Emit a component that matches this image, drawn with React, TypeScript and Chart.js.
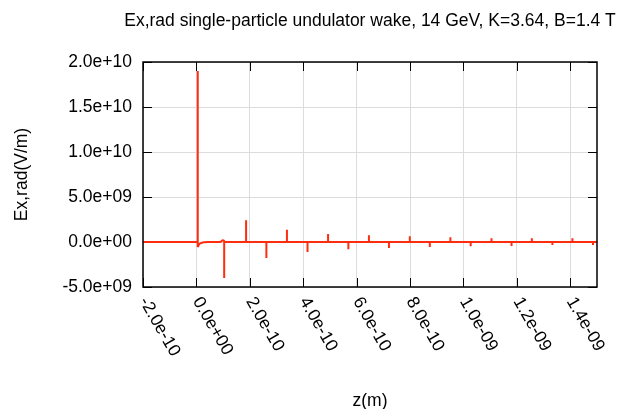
import React, { useEffect, useRef } from 'react';
import { Chart, registerables } from 'chart.js';

Chart.register(...registerables);

const TITLE = 'Ex,rad single-particle undulator wake, 14 GeV, K=3.64, B=1.4 T';
const X_LABEL = 'z(m)';
const Y_LABEL = 'Ex,rad(V/m)';

const X_MIN = -2.0e-10;
const X_MAX = 1.5e-9;
const Y_MIN = -5.0e9;
const Y_MAX = 2.0e10;

const xTickValues = [-2e-10, 0, 2e-10, 4e-10, 6e-10, 8e-10, 1e-9, 1.2e-9, 1.4e-9];
const xTickLabels = ['-2.0e-10', '0.0e+00', '2.0e-10', '4.0e-10', '6.0e-10', '8.0e-10', '1.0e-09', '1.2e-09', '1.4e-09'];
const yTickValues = [-5e9, 0, 5e9, 1e10, 1.5e10, 2e10];
const yTickLabels = ['-5.0e+09', '0.0e+00', '5.0e+09', '1.0e+10', '1.5e+10', '2.0e+10'];

// head of the wake: main spike near z=0, undershoot + recovery, small bump and first negative spike
const headZ = [-2.0e-10, 0.05e-10, 0.05e-10, 0.05e-10, 0.10e-10, 0.17e-10, 0.28e-10, 0.45e-10, 0.90e-10, 0.98e-10, 1.04e-10, 1.04e-10, 1.04e-10, 1.10e-10];
const headE = [0, 0, 1.9e10, -0.55e9, -0.25e9, -0.11e9, -0.03e9, 0, 0, 0.2e9, 0.15e9, -4.0e9, 0, 0];

// later alternating spikes of the wake
const spikeZ = [1.86e-10, 2.62e-10, 3.39e-10, 4.16e-10, 4.93e-10, 5.69e-10, 6.46e-10, 7.21e-10, 7.99e-10, 8.74e-10, 9.51e-10, 10.27e-10, 11.05e-10, 11.80e-10, 12.56e-10, 13.33e-10, 14.08e-10, 14.85e-10];
const spikeE = [2.43e9, -1.77e9, 1.37e9, -1.1e9, 0.88e9, -0.81e9, 0.74e9, -0.66e9, 0.63e9, -0.55e9, 0.52e9, -0.48e9, 0.41e9, -0.44e9, 0.41e9, -0.33e9, 0.41e9, -0.33e9];

const tailZ = [1.5e-9];
const tailE = [0];

const FONT = '17.5px "Liberation Sans", Arial, Helvetica, sans-serif';
const LINE_COLOR = 'rgb(255,45,15)';

function buildPoints() {
  const pts: { x: number; y: number }[] = [];
  headZ.forEach((z, i) => pts.push({ x: z, y: headE[i] }));
  spikeZ.forEach((z, i) => {
    pts.push({ x: z, y: 0 });
    pts.push({ x: z, y: spikeE[i] });
    pts.push({ x: z, y: 0 });
  });
  tailZ.forEach((z, i) => pts.push({ x: z, y: tailE[i] }));
  return pts;
}

const framePlugin = {
  id: 'gnuframe',
  beforeDatasetsDraw(chart: any) {
    const { ctx, chartArea: a, scales } = chart;
    const x = scales.x;
    const y = scales.y;
    ctx.save();
    // inward tick marks on all four sides (under the data, like gnuplot)
    ctx.strokeStyle = '#000';
    ctx.lineWidth = 1;
    ctx.beginPath();
    xTickValues.forEach((v) => {
      const px = Math.round(x.getPixelForValue(v)) + 0.5;
      ctx.moveTo(px, a.bottom);
      ctx.lineTo(px, a.bottom - 9);
      ctx.moveTo(px, a.top);
      ctx.lineTo(px, a.top + 9);
    });
    yTickValues.forEach((v) => {
      const py = Math.round(y.getPixelForValue(v)) + 0.5;
      ctx.moveTo(a.left, py);
      ctx.lineTo(a.left + 9, py);
      ctx.moveTo(a.right, py);
      ctx.lineTo(a.right - 9, py);
    });
    ctx.stroke();
    ctx.restore();
  },
  afterDatasetsDraw(chart: any) {
    const { ctx, chartArea: a, scales } = chart;
    const x = scales.x;
    const y = scales.y;
    ctx.save();
    // frame
    ctx.strokeStyle = '#000';
    ctx.lineWidth = 1.5;
    ctx.strokeRect(a.left, a.top, a.right - a.left, a.bottom - a.top);

    // texts
    ctx.fillStyle = '#000';
    ctx.font = FONT;
    // title
    ctx.textAlign = 'center';
    ctx.textBaseline = 'alphabetic';
    ctx.fillText(TITLE, (a.left + a.right) / 2, 26);
    // y tick labels
    ctx.textAlign = 'right';
    yTickValues.forEach((v, i) => {
      const py = y.getPixelForValue(v);
      ctx.fillText(yTickLabels[i], a.left - 11, py + 5);
    });
    // x tick labels rotated
    ctx.textAlign = 'left';
    xTickValues.forEach((v, i) => {
      const px = x.getPixelForValue(v);
      ctx.save();
      ctx.translate(px - 4, a.bottom + 14);
      ctx.rotate(Math.PI / 3);
      ctx.fillText(xTickLabels[i], 0, 0);
      ctx.restore();
    });
    // x axis label
    ctx.textAlign = 'center';
    ctx.fillText(X_LABEL, (a.left + a.right) / 2, 406);
    // y axis label
    ctx.save();
    ctx.translate(27, (a.top + a.bottom) / 2);
    ctx.rotate(-Math.PI / 2);
    ctx.fillText(Y_LABEL, 0, 0);
    ctx.restore();
    ctx.restore();
  },
};

export default function App() {
  const ref = useRef<HTMLCanvasElement | null>(null);
  useEffect(() => {
    document.body.style.margin = '0';
    const canvas = ref.current;
    if (!canvas) return;
    const chart = new Chart(canvas, {
      type: 'line',
      data: {
        datasets: [
          {
            data: buildPoints(),
            borderColor: LINE_COLOR,
            borderWidth: 2,
            pointRadius: 0,
            tension: 0,
            fill: false,
            borderJoinStyle: 'bevel',
          } as any,
        ],
      },
      options: {
        animation: false,
        responsive: false,
        devicePixelRatio: 1,
        layout: { padding: { left: 143, top: 62, right: 30, bottom: 122 } },
        plugins: { legend: { display: false }, tooltip: { enabled: false }, title: { display: false } },
        scales: {
          x: {
            type: 'linear',
            min: X_MIN,
            max: X_MAX,
            afterBuildTicks: (s: any) => {
              s.ticks = xTickValues.map((v) => ({ value: v }));
            },
            ticks: { display: false },
            grid: { color: '#dcdcdc', lineWidth: 1, drawTicks: false },
            border: { display: false },
          },
          y: {
            type: 'linear',
            min: Y_MIN,
            max: Y_MAX,
            afterBuildTicks: (s: any) => {
              s.ticks = yTickValues.map((v) => ({ value: v }));
            },
            ticks: { display: false },
            grid: { color: '#dcdcdc', lineWidth: 1, drawTicks: false },
            border: { display: false },
          },
        },
      },
      plugins: [framePlugin],
    });
    return () => chart.destroy();
  }, []);
  return (
    <div style={{ width: 627, height: 409, background: '#fff' }}>
      <canvas ref={ref} width={627} height={409} style={{ display: 'block' }} />
    </div>
  );
}
